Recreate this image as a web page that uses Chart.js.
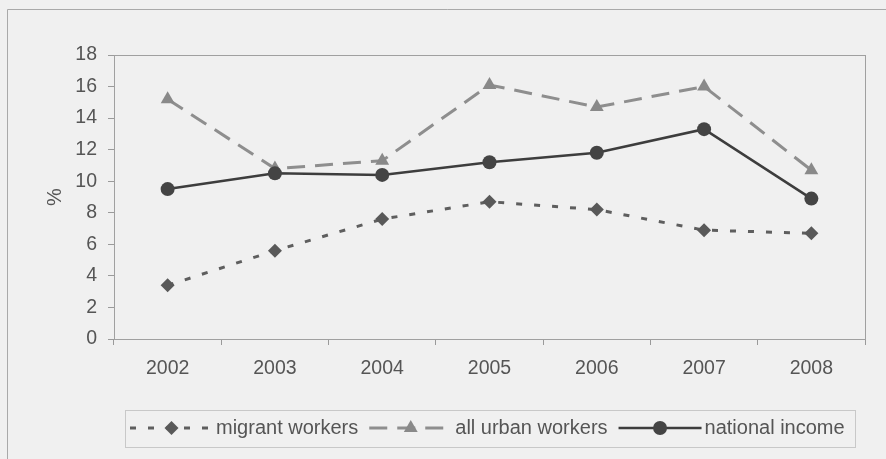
<!DOCTYPE html>
<html>
<head>
<meta charset="utf-8">
<script src="https://cdn.jsdelivr.net/npm/chart.js@4/dist/chart.umd.min.js"></script>
<style>
  html, body { margin: 0; padding: 0; background: #f0f0f0; }
</style>
</head>
<body>
<canvas id="growthChart" width="886" height="459"></canvas>
<script>
// growth rates, % per year
var years = ['2002', '2003', '2004', '2005', '2006', '2007', '2008'];
var migrantWorkers = [3.4, 5.6, 7.6, 8.7, 8.2, 6.9, 6.7];
var urbanWorkers = [15.2, 10.8, 11.3, 16.1, 14.7, 16.0, 10.7];
var nationalIncome = [9.5, 10.5, 10.4, 11.2, 11.8, 13.3, 8.9];
var yMin = 0, yMax = 18, yStep = 2;

var FONT = '"Liberation Sans", Arial, sans-serif';
var TEXT = '#555555';

// background, outer frame and plot box
var framePlugin = {
  id: 'frame',
  beforeDraw: function(chart) {
    var ctx = chart.ctx;
    ctx.save();
    ctx.fillStyle = '#f0f0f0';
    ctx.fillRect(0, 0, chart.width, chart.height);
    ctx.strokeStyle = '#a9a9a9';
    ctx.lineWidth = 1;
    ctx.beginPath();
    ctx.moveTo(7.5, chart.height + 5);
    ctx.lineTo(7.5, 9.5);
    ctx.lineTo(chart.width + 5, 9.5);
    ctx.stroke();
    ctx.restore();
  },
  beforeDatasetsDraw: function(chart) {
    var a = chart.chartArea, ctx = chart.ctx;
    ctx.save();
    ctx.strokeStyle = '#a0a0a0';
    ctx.lineWidth = 1;
    ctx.strokeRect(Math.round(a.left) + 0.5, Math.round(a.top) + 0.5,
      Math.round(a.right - a.left), Math.round(a.bottom - a.top));
    ctx.restore();
  }
};

// legend with line sample + marker, boxed, under the plot
var lineLegend = {
  id: 'lineLegend',
  afterDraw: function(chart) {
    var ctx = chart.ctx, a = chart.chartArea;
    var sets = chart.data.datasets;
    var sampleW = 83, gapText = 3, gapNext = 11, padL = 5, padR = 10;
    var cy = 428;
    ctx.save();
    ctx.font = '20px ' + FONT;
    var total = padL + padR;
    sets.forEach(function(ds, i) {
      total += sampleW + gapText + ctx.measureText(ds.label).width;
      if (i < sets.length - 1) total += gapNext;
    });
    var boxL = Math.round((a.left + a.right) / 2 - total / 2);
    ctx.strokeStyle = '#c8c8c8';
    ctx.lineWidth = 1;
    ctx.strokeRect(boxL + 0.5, 410.5, Math.round(total), 37);

    var x = boxL + padL;
    sets.forEach(function(ds) {
      ctx.save();
      ctx.strokeStyle = ds.borderColor;
      ctx.lineWidth = ds.borderWidth;
      ctx.setLineDash(ds.borderDash || []);
      ctx.beginPath();
      ctx.moveTo(x, cy);
      ctx.lineTo(x + sampleW, cy);
      ctx.stroke();
      ctx.setLineDash([]);
      ctx.fillStyle = ds.pointBackgroundColor;
      Chart.helpers.drawPoint(ctx, {
        pointStyle: ds.pointStyle, radius: ds.pointRadius, rotation: 0, borderWidth: 0
      }, x + sampleW / 2, cy);
      ctx.restore();
      x += sampleW + gapText;
      ctx.fillStyle = TEXT;
      ctx.textBaseline = 'middle';
      ctx.textAlign = 'left';
      ctx.fillText(ds.label, x, cy);
      x += ctx.measureText(ds.label).width + gapNext;
    });
    ctx.restore();
  }
};

new Chart(document.getElementById('growthChart'), {
  type: 'line',
  data: {
    labels: years,
    datasets: [
      {
        label: 'migrant workers',
        data: migrantWorkers,
        borderColor: '#5e5e5e',
        borderWidth: 3,
        borderDash: [6, 12],
        pointStyle: 'rectRot',
        pointRadius: 7,
        pointBackgroundColor: '#595959',
        pointBorderWidth: 0,
        order: 3
      },
      {
        label: 'all urban workers',
        data: urbanWorkers,
        borderColor: '#8e8e8e',
        borderWidth: 3,
        borderDash: [18, 10],
        pointStyle: 'triangle',
        pointRadius: 8,
        pointBackgroundColor: '#898989',
        pointBorderWidth: 0,
        order: 2
      },
      {
        label: 'national income',
        data: nationalIncome,
        borderColor: '#3d3d3d',
        borderWidth: 2.5,
        pointStyle: 'circle',
        pointRadius: 7,
        pointBackgroundColor: '#444444',
        pointBorderWidth: 0,
        order: 1
      }
    ]
  },
  options: {
    responsive: false,
    animation: false,
    layout: { padding: { left: 0, top: 55, right: 21, bottom: 0 } },
    elements: { line: { tension: 0 } },
    plugins: {
      legend: { display: false },
      tooltip: { enabled: false }
    },
    scales: {
      x: {
        offset: true,
        border: { display: false },
        grid: { offset: true, drawOnChartArea: false, drawTicks: true, tickLength: 6, color: '#9a9a9a' },
        ticks: { color: TEXT, font: { family: FONT, size: 19.5 }, padding: 12, maxRotation: 0 },
        afterFit: function(scale) { scale.height = 120; }
      },
      y: {
        min: yMin,
        max: yMax,
        border: { display: false },
        grid: { drawOnChartArea: false, drawTicks: true, tickLength: 6, color: '#9a9a9a' },
        ticks: { stepSize: yStep, color: TEXT, font: { family: FONT, size: 19.5 }, padding: 11 },
        title: {
          display: true,
          text: '%',
          color: TEXT,
          font: { family: FONT, size: 20 },
          padding: { top: 43, bottom: 0 }
        },
        afterFit: function(scale) { scale.width = 114; }
      }
    }
  },
  plugins: [framePlugin, lineLegend]
});
</script>
</body>
</html>
